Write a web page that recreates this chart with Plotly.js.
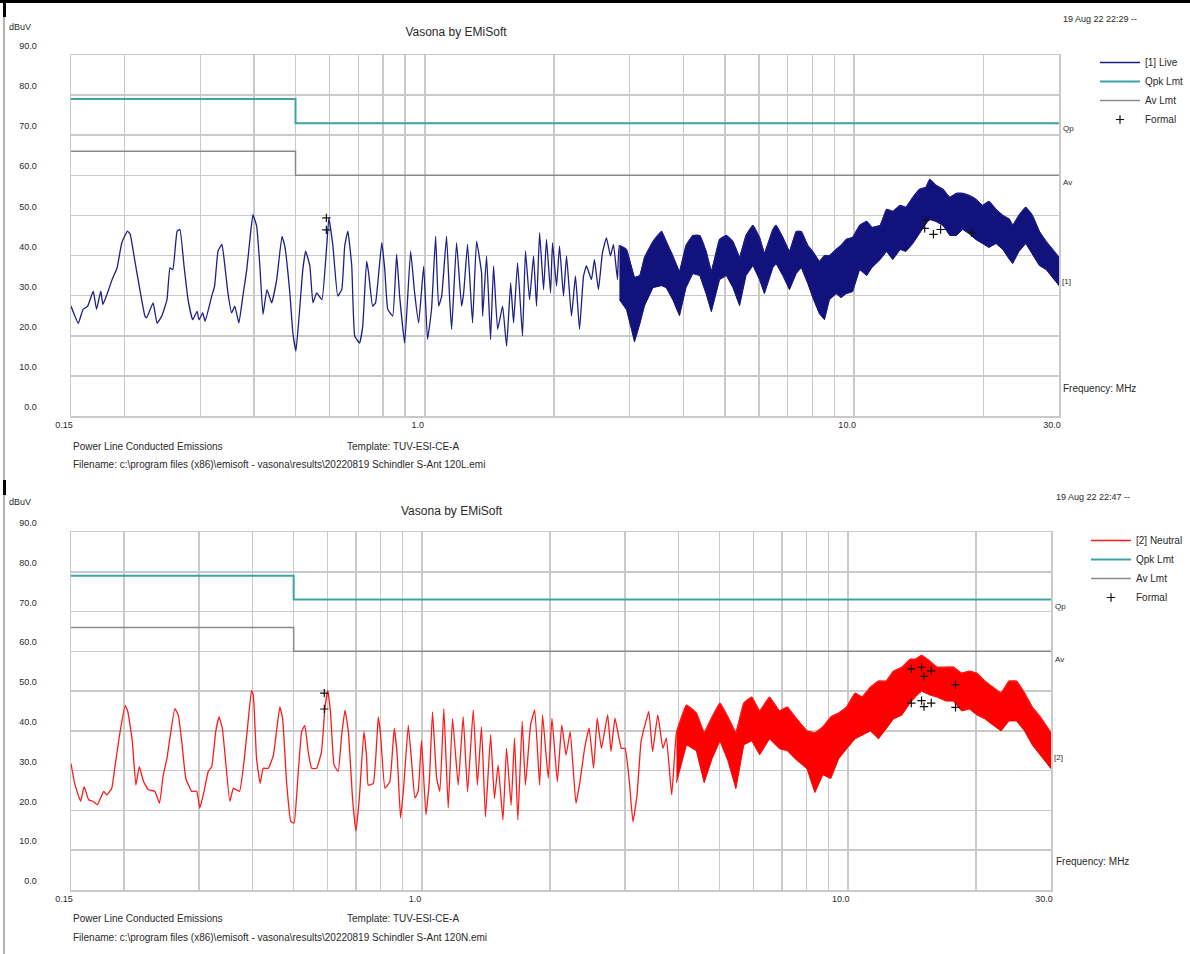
<!DOCTYPE html>
<html>
<head>
<meta charset="utf-8">
<script src="https://cdn.plot.ly/plotly-3.0.1.min.js"></script>
<style>html,body{margin:0;padding:0;background:#fff;}#chart{width:1190px;height:954px;}</style>
</head>
<body>
<div id="chart"></div>
<script>
// ---------------- DATA ----------------
// Limits (CISPR class A), shared by both charts
const limitFreq = [0.15, 0.5, 0.5, 30];
const qpkLevel  = [79, 79, 73, 73];
const avLevel   = [66, 66, 60, 60];

// Axis tick labels
const xTickVals  = [0.15, 1, 10, 30];
const xTickText  = ['0.15', '1.0', '10.0', '30.0'];
const xGridVals  = [0.2,0.3,0.4,0.5,0.6,0.7,0.8,0.9,2,3,4,5,6,7,8,9,20];

// [1] Live – individual sweep, 0.15 .. 2.8 MHz (MHz, dBuV)
const liveFreq = [0.15,0.156,0.160,0.164,0.169,0.172,0.176,0.178,0.183,0.187,
0.192,0.197,0.203,0.206,0.211,0.217,0.223,0.225,0.233,0.238,
0.244,0.251,0.255,0.259,0.265,0.269,0.275,0.281,0.288,0.295,
0.298,0.304,0.308,0.319,0.324,0.330,0.337,0.342,0.348,0.355,
0.361,0.369,0.377,0.385,0.393,0.398,0.406,0.413,0.420,0.429,
0.440,0.452,0.465,0.472,0.485,0.493,0.501,0.509,0.520,0.528,
0.540,0.549,0.560,0.576,0.591,0.598,0.611,0.627,0.641,0.651,
0.662,0.676,0.687,0.705,0.717,0.732,0.740,0.756,0.768,0.794,
0.807,0.820,0.842,0.860,0.874,0.898,0.927,0.947,0.968,0.994,
1.015,1.037,1.060,1.077,1.095,1.124,1.143,1.155,1.186,1.218,
1.232,1.258,1.292,1.320,1.356,1.364,1.393,1.423,1.446,1.478,
1.518,1.551,1.585,1.610,1.645,1.689,1.716,1.754,1.792,1.821,
1.851,1.891,1.921,1.963,1.984,2.027,2.060,2.104,2.139,2.196,
2.244,2.293,2.343,2.380,2.445,2.484,2.538,2.593,2.649,2.707,
2.751,2.811];
const liveLevel = [27.4,23.1,26.6,27.4,31.1,26.6,31.1,27.8,31.1,34.0,
36.9,43.2,46.1,45.3,39.0,31.5,24.9,24.5,28.2,23.1,
24.9,29.0,36.9,36.5,46.1,46.5,37.4,29.0,24.0,26.1,
24.0,25.7,23.6,29.9,32.4,41.1,42.8,37.8,30.7,25.7,
27.4,23.2,29.9,36.5,45.7,50.2,47.3,37.4,25.3,31.5,
28.2,34.0,44.8,42.4,30.7,20.7,16.2,24.0,36.5,41.1,
37.4,28.2,30.7,29.0,42.4,49.4,42.4,29.9,31.6,42.4,
46.1,37.4,19.9,18.2,22.4,38.6,35.7,27.4,28.2,43.2,
36.5,26.6,24.9,40.3,29.9,18.2,41.1,30.7,23.2,37.3,
19.1,26.6,44.8,27.4,29.9,44.8,29.0,21.6,43.2,27.4,
30.7,42.8,23.2,43.6,35.7,24.9,39.9,19.1,37.4,21.6,
27.4,17.4,33.2,23.2,38.2,19.9,41.1,29.0,39.9,27.4,
45.7,31.5,44.0,30.7,43.2,32.4,42.4,29.9,39.9,24.9,
34.9,21.6,34.9,37.4,34.0,39.0,31.5,40.7,44.4,39.9,
42.8,34.0];
// [1] Live – dense band 2.8 .. 30 MHz: upper and lower edge of the band
const liveBandFreq = [2.84,2.95,3.08,3.17,3.25,3.40,3.56,3.65,3.78,3.92,
4.06,4.21,4.37,4.52,4.65,4.86,5.04,5.22,5.41,5.60,
5.81,6.02,6.18,6.47,6.58,6.82,7.07,7.33,7.53,7.80,
8.01,8.30,8.53,8.76,9.08,9.32,9.58,9.92,10.3,10.7,
11.0,11.5,11.9,12.3,12.8,13.2,13.7,14.2,14.7,15.0,
15.5,16.1,16.7,17.3,17.9,18.5,19.2,19.9,20.6,21.4,
22.2,23.0,23.4,24.2,25.1,26.0,27.0,28.0,29.0,30.0];
const liveBandUpper = [42.5,41.5,34.5,35.0,39.5,43.5,46.0,43.5,40.0,36.0,
42.5,45.0,45.0,41.0,36.0,44.0,45.0,43.5,39.5,45.0,
47.5,44.5,40.5,46.5,47.5,44.5,41.0,46.0,46.0,42.5,
41.0,38.5,40.0,40.0,41.5,42.5,44.0,44.5,47.5,48.5,
47.0,47.5,51.5,51.0,52.5,52.0,54.5,56.5,57.0,59.0,
57.5,56.5,54.5,55.5,55.5,55.0,54.0,52.5,53.5,51.5,
50.0,49.0,47.5,50.0,52.0,50.0,46.0,43.5,41.5,39.5];
const liveBandLower = [29.0,26.5,18.5,23.0,27.5,32.0,32.5,32.0,29.0,25.0,
32.0,35.5,35.0,30.5,26.0,34.0,35.0,32.0,27.5,35.0,
37.5,34.0,30.5,37.0,38.0,35.0,31.5,35.5,37.0,33.0,
29.5,25.5,24.0,29.0,30.5,29.5,30.5,31.0,36.5,35.0,
37.0,39.0,41.0,39.0,41.5,41.0,43.0,45.5,48.0,49.0,
48.5,47.5,45.0,45.0,46.5,45.5,44.0,43.0,42.0,43.0,
41.5,39.0,38.0,41.0,43.0,40.5,37.5,36.5,34.5,32.5];
// Formal measurements, chart 1
const liveFormalFreq  = [0.59,0.59,14.6,14.7,15.3,15.9,18.8];
const liveFormalLevel = [49.4,46.4,46.8,48.9,45.3,46.5,45.7];

// [2] Neutral – individual sweep, 0.15 .. 3.9 MHz
const neutFreq = [0.150,0.153,0.158,0.161,0.165,0.169,0.173,0.179,0.182,0.187,
0.190,0.195,0.201,0.204,0.209,0.213,0.217,0.222,0.228,0.236,
0.242,0.247,0.252,0.256,0.263,0.268,0.273,0.279,0.288,0.296,
0.301,0.308,0.315,0.321,0.328,0.334,0.340,0.345,0.354,0.361,
0.373,0.383,0.390,0.398,0.402,0.409,0.417,0.424,0.436,0.448,
0.456,0.464,0.471,0.481,0.492,0.501,0.510,0.522,0.531,0.541,
0.551,0.566,0.581,0.592,0.601,0.610,0.622,0.636,0.648,0.660,
0.672,0.688,0.700,0.713,0.731,0.742,0.748,0.769,0.790,0.800,
0.819,0.841,0.861,0.875,0.891,0.907,0.929,0.946,0.963,0.980,
0.998,1.022,1.041,1.059,1.083,1.102,1.126,1.153,1.180,1.217,
1.25,1.28,1.32,1.35,1.38,1.41,1.45,1.48,1.51,1.55,
1.58,1.62,1.65,1.68,1.72,1.75,1.80,1.84,1.89,1.92,
1.98,2.02,2.08,2.13,2.18,2.23,2.30,2.35,2.41,2.47,
2.53,2.58,2.64,2.73,2.78,2.84,2.94,3.00,3.07,3.13,
3.20,3.27,3.34,3.41,3.48,3.58,3.68,3.75,3.86];
const neutLevel = [31.8,26.8,22.3,26.0,22.7,22.3,21.4,24.8,23.9,25.6,
30.6,38.9,46.4,44.8,37.3,26.4,31.0,27.3,25.2,24.8,
21.8,28.9,33.1,38.1,45.6,43.9,37.3,28.1,24.8,24.8,
20.6,24.8,29.8,31.0,39.8,43.5,40.6,33.9,22.3,25.6,
24.8,33.1,41.4,50.2,48.9,33.1,26.8,30.6,30.6,33.9,
40.2,46.0,43.1,27.3,17.3,16.8,26.4,39.8,41.4,34.7,
30.6,30.6,34.7,45.6,50.2,44.8,31.4,29.8,38.9,45.2,
39.8,22.3,14.8,23.1,39.8,33.1,26.4,26.8,43.5,38.9,
25.6,27.3,40.6,33.9,18.1,26.4,41.4,32.2,23.1,24.8,
37.6,18.9,27.3,44.8,28.1,24.8,45.6,20.6,43.1,26.4,
43.6,24.7,45.3,26.4,41.0,18.4,39.0,23.0,31.4,17.6,
35.6,21.3,38.2,17.6,42.4,26.4,41.5,45.3,26.4,44.0,
28.1,43.2,27.2,41.5,33.9,39.8,21.8,27.2,35.6,40.7,
30.6,43.2,35.6,44.0,34.8,43.2,35.6,35.6,27.2,17.1,
23.9,37.3,41.5,44.9,34.8,44.0,35.6,38.2,23.9];
// [2] Neutral – dense band 3.96 .. 30 MHz
const neutBandFreq = [3.96,4.18,4.41,4.60,4.80,5.01,5.23,5.46,5.70,5.95,
6.21,6.55,6.91,7.21,7.52,8.02,8.37,8.74,9.12,9.52,
9.94,10.4,10.8,11.3,11.8,12.3,12.8,13.4,14.0,14.4,
14.9,15.6,16.2,17.0,17.7,18.5,19.3,20.1,21.0,21.9,
22.9,23.9,24.9,26.0,27.1,28.3,30.0];
const neutBandUpper = [39.5,46.5,44.5,39.5,43.5,47.0,43.5,39.5,47.0,48.5,
45.0,48.5,45.0,46.0,43.5,40.0,39.5,41.0,43.5,44.5,
46.0,49.5,48.5,51.0,52.5,52.5,55.0,56.0,58.0,58.0,
59.0,57.5,56.0,56.0,56.0,54.5,55.0,54.5,52.5,51.0,
49.5,52.5,52.5,49.5,46.0,43.5,39.5];
const neutBandLower = [27.0,36.5,35.0,27.0,33.0,37.5,32.5,25.5,36.5,37.5,
34.0,38.0,35.5,35.0,33.0,30.5,24.5,29.0,28.0,33.0,
35.5,38.0,39.0,40.0,38.0,40.5,43.0,44.0,47.0,48.5,
50.0,49.0,48.5,47.5,47.5,45.0,45.5,44.0,43.0,41.5,
40.0,42.5,42.5,40.0,36.5,34.0,30.5];
// Formal measurements, chart 2
const neutFormalFreq  = [0.59,0.59,14.1,14.9,15.1,15.7,17.9,14.1,14.9,15.1,15.7,17.9];
const neutFormalLevel = [49.5,45.5,55.6,56.0,53.7,55.1,51.6,47.0,47.6,46.1,47.0,45.9];

// ---------------- STYLE / LAYOUT ----------------
const W = 1190, H = 954;
const PX = x => x / W;          // pixel -> paper x
const PY = y => 1 - y / H;      // pixel -> paper y
const FONT = '"Liberation Sans", Arial, sans-serif';
const TXT = '#2a2a2a';
const GRID = '#c9c9c9';
const NAVY = '#1e1e88', NAVY_FILL = '#12127c';
const RED = '#ff1a1a', RED_FILL = '#ff0000';
const TEAL = '#3fa3a3', GREY = '#8a8a8a';

function chartTraces(ax, ay, lg, name, color, fillColor, f, l, bf, bu, bd, ff, fl) {
  const rev = a => a.slice().reverse();
  return [
    {x: bf.concat(rev(bf)), y: bu.concat(rev(bd)), xaxis: ax, yaxis: ay, type: 'scatter', mode: 'lines',
     fill: 'toself', fillcolor: fillColor, line: {color: fillColor, width: 1}, showlegend: false, hoverinfo: 'skip'},
    {x: f.concat(bf), y: l.concat(bu), xaxis: ax, yaxis: ay, legend: lg, type: 'scatter', mode: 'lines', name: name,
     line: {color: color, width: 1.3, shape: 'spline', smoothing: 0.35}},
    {x: limitFreq, y: qpkLevel, xaxis: ax, yaxis: ay, legend: lg, type: 'scatter', mode: 'lines', name: 'Qpk Lmt',
     line: {color: TEAL, width: 2}},
    {x: limitFreq, y: avLevel, xaxis: ax, yaxis: ay, legend: lg, type: 'scatter', mode: 'lines', name: 'Av Lmt',
     line: {color: GREY, width: 1.5}},
    {x: ff, y: fl, xaxis: ax, yaxis: ay, legend: lg, type: 'scatter', mode: 'markers', name: 'Formal',
     marker: {symbol: 'cross-thin', size: 6, line: {color: '#111', width: 1.2}, color: '#111'}}
  ];
}

const data = [].concat(
  chartTraces('x', 'y', 'legend', '[1] Live', NAVY, NAVY_FILL, liveFreq, liveLevel,
              liveBandFreq, liveBandUpper, liveBandLower, liveFormalFreq, liveFormalLevel),
  chartTraces('x2', 'y2', 'legend2', '[2] Neutral', RED, RED_FILL, neutFreq, neutLevel,
              neutBandFreq, neutBandUpper, neutBandLower, neutFormalFreq, neutFormalLevel)
);

function xAxis(left, right, anchor) {
  return {
    type: 'log', domain: [PX(left), PX(right)], anchor: anchor,
    range: [Math.log10(0.15), Math.log10(30)],
    tickmode: 'array', tickvals: xTickVals, ticktext: xTickText,
    ticks: '', showgrid: true, gridcolor: GRID, gridwidth: 1.5,
    minor: {tickvals: xGridVals, showgrid: true, gridcolor: GRID, gridwidth: 1.5, ticks: ''},
    showline: true, mirror: true, linecolor: GRID, linewidth: 1.5,
    zeroline: false, ticklabelshift: -7,
    tickfont: {family: FONT, size: 9, color: TXT}, fixedrange: true
  };
}
function yAxis(top, bottom, anchor) {
  return {
    domain: [PY(bottom), PY(top)], anchor: anchor, range: [0, 90],
    tick0: 0, dtick: 10, tickformat: '.1f', ticks: '',
    showgrid: true, gridcolor: GRID, gridwidth: 1.5,
    showline: true, mirror: true, linecolor: GRID, linewidth: 1.5, zeroline: false,
    ticklabelstandoff: 31, ticklabelshift: -9,
    tickfont: {family: FONT, size: 9, color: TXT}, fixedrange: true
  };
}

function note(text, x, y, size, anchor) {
  return {text: text, xref: 'paper', yref: 'paper', x: PX(x), y: PY(y), xanchor: anchor || 'left',
          yanchor: 'middle', showarrow: false, font: {family: FONT, size: size, color: TXT}};
}

const annotations = [
  note('dBuV', 7, 27, 9),
  note('19 Aug 22 22:29 --', 1061, 19, 9),
  note('Qp', 1061, 128, 8), note('Av', 1061, 182, 8), note('[1]', 1060, 281, 8),
  note('Frequency: MHz', 1061, 388, 10),
  note('Power Line Conducted Emissions', 71, 446, 10),
  note('Template: TUV-ESI-CE-A', 345, 446, 10),
  note('Filename: c:\\program files (x86)\\emisoft - vasona\\results\\20220819 Schindler S-Ant 120L.emi', 71, 464, 10),

  note('dBuV', 7, 502, 9),
  note('Vasona by EMiSoft', 452, 511, 12, 'center'),
  note('19 Aug 22 22:47 --', 1054, 497, 9),
  note('Qp', 1053, 606, 8), note('Av', 1053, 659, 8), note('[2]', 1052, 757, 8),
  note('Frequency: MHz', 1054, 861, 10),
  note('Power Line Conducted Emissions', 71, 918, 10),
  note('Template: TUV-ESI-CE-A', 345, 918, 10),
  note('Filename: c:\\program files (x86)\\emisoft - vasona\\results\\20220819 Schindler S-Ant 120N.emi', 71, 937, 10)
];

const shapes = [
  {type: 'rect', xref: 'paper', yref: 'paper', x0: 0, x1: 1, y0: PY(3), y1: 1, fillcolor: '#000', line: {width: 0}},
  {type: 'rect', xref: 'paper', yref: 'paper', x0: PX(3), x1: PX(6), y0: PY(17), y1: PY(3), fillcolor: '#000', line: {width: 0}},
  {type: 'line', xref: 'paper', yref: 'paper', x0: PX(4), x1: PX(4), y0: PY(480), y1: PY(17), line: {color: '#9a9a9a', width: 1.5}},
  {type: 'rect', xref: 'paper', yref: 'paper', x0: PX(3), x1: PX(6), y0: PY(495), y1: PY(480), fillcolor: '#000', line: {width: 0}},
  {type: 'line', xref: 'paper', yref: 'paper', x0: PX(4), x1: PX(4), y0: 0, y1: PY(495), line: {color: '#9a9a9a', width: 1.5}}
];

const layout = {
  width: W, height: H, margin: {l: 0, r: 0, t: 0, b: 0},
  paper_bgcolor: '#ffffff', plot_bgcolor: '#ffffff',
  font: {family: FONT, size: 10, color: TXT},
  title: {text: 'Vasona by EMiSoft', x: PX(456), y: PY(32), xanchor: 'center', yanchor: 'middle',
          font: {family: FONT, size: 12, color: TXT}},
  xaxis: xAxis(71, 1059, 'y'), yaxis: yAxis(55, 416, 'x'),
  xaxis2: xAxis(71, 1051, 'y2'), yaxis2: yAxis(532, 890, 'x2'),
  legend: {x: PX(1095), y: PY(48), xanchor: 'left', yanchor: 'top', bgcolor: 'rgba(0,0,0,0)',
           borderwidth: 0, itemwidth: 40, tracegroupgap: 0, font: {family: FONT, size: 10, color: TXT}},
  legend2: {x: PX(1086), y: PY(526), xanchor: 'left', yanchor: 'top', bgcolor: 'rgba(0,0,0,0)',
           borderwidth: 0, itemwidth: 40, tracegroupgap: 0, font: {family: FONT, size: 10, color: TXT}},
  annotations: annotations, shapes: shapes, showlegend: true, hovermode: false
};

Plotly.newPlot('chart', data, layout, {staticPlot: true, displayModeBar: false});
</script>
</body>
</html>
